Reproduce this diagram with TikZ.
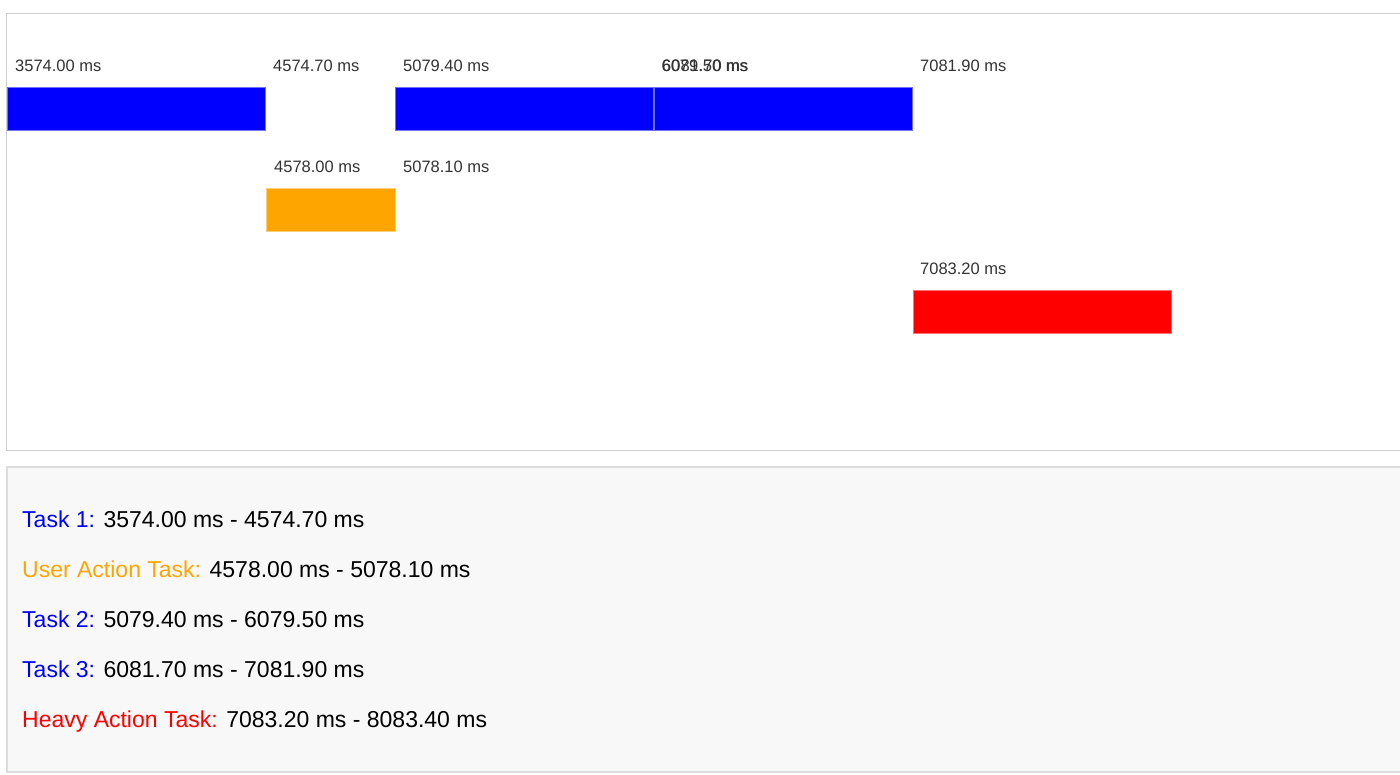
\documentclass[tikz,border=0pt]{standalone}
\usepackage{fontspec}
\setmainfont{Liberation Sans}
\definecolor{taskblue}{HTML}{0000FF}
\definecolor{taskorange}{HTML}{FFA500}
\definecolor{taskred}{HTML}{FF0000}
\definecolor{labelgray}{HTML}{333333}
\definecolor{framegray}{HTML}{D0D0D0}
\definecolor{panelgray}{HTML}{F8F8F8}
\definecolor{panelline}{HTML}{DDDDDD}
\begin{document}
\begin{tikzpicture}[x=1pt, y=-1pt,
  timelabel/.style={anchor=west, inner sep=0pt, text=labelgray, font=\fontsize{16.5}{18}\selectfont},
  legendline/.style={anchor=base west, inner sep=0pt, font=\fontsize{23}{26}\selectfont}]
\useasboundingbox (0,0) rectangle (1400,774);

% chart frame and legend panel
\draw[color=framegray, line width=1.5pt] (1402,13.5) -- (6.5,13.5) -- (6.5,450.5) -- (1402,450.5);
\filldraw[color=panelline, fill=panelgray, line width=2pt] (1402,467) -- (7,467) -- (7,772) -- (1402,772);

% bars
\foreach \a/\b/\y/\c in {7/265/87/taskblue, 395.4/653.4/87/taskblue, 654/912/87/taskblue, 266/395/188/taskorange, 913/1171/290/taskred}
\filldraw[color=\c!55!white, fill=\c, line width=0.6pt] (\a,\y) rectangle (\b,\y+43);

% time labels
\node[timelabel] (t1s) at (15,66) {3574.00 ms};
\node[timelabel] (t1e) at (273,66) {4574.70 ms};
\node[timelabel] (t2s) at (403,66) {5079.40 ms};
\node[timelabel] (t2e) at (661.4,66) {6079.50 ms};
\node[timelabel] (t3s) at (662,66) {6081.70 ms};
\node[timelabel] (t3e) at (920,66) {7081.90 ms};
\node[timelabel] (uas) at (274,167) {4578.00 ms};
\node[timelabel] (uae) at (403,167) {5078.10 ms};
\node[timelabel] (has) at (920,269) {7083.20 ms};

% legend
\node[legendline] (lg1) at (22,527.5) {\textcolor{taskblue}{Task 1:} 3574.00 ms - 4574.70 ms};
\node[legendline] (lg2) at (22,577.5) {\textcolor{taskorange}{User Action Task:} 4578.00 ms - 5078.10 ms};
\node[legendline] (lg3) at (22,627.5) {\textcolor{taskblue}{Task 2:} 5079.40 ms - 6079.50 ms};
\node[legendline] (lg4) at (22,677.5) {\textcolor{taskblue}{Task 3:} 6081.70 ms - 7081.90 ms};
\node[legendline] (lg5) at (22,727.5) {\textcolor{taskred}{Heavy Action Task:} 7083.20 ms - 8083.40 ms};
\end{tikzpicture}
\end{document}
